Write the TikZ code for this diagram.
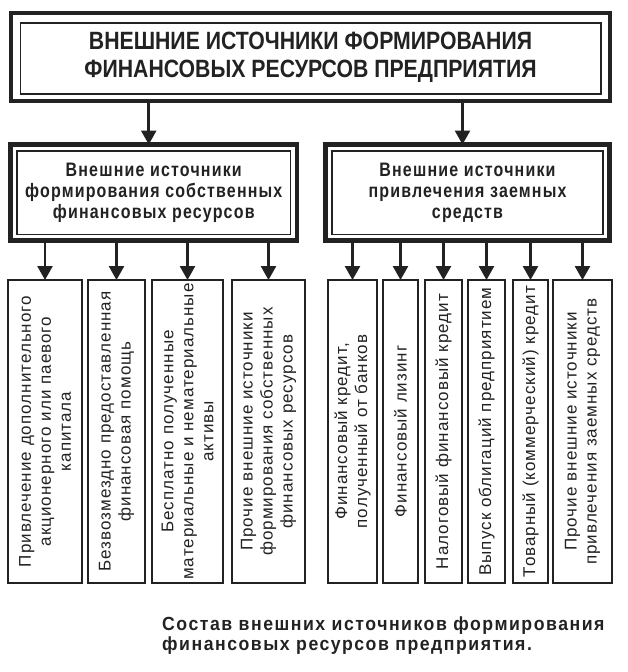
\documentclass[tikz,border=0pt]{standalone}
\usepackage{fontspec}
\setmainfont{Liberation Sans}
\newfontfamily\ttlfont[FakeStretch=0.85]{Liberation Sans}
\newfontfamily\subfont[FakeStretch=0.82,LetterSpace=6]{Liberation Sans}
\newfontfamily\vfont[LetterSpace=6]{Liberation Sans}
\newfontfamily\capfont[FakeStretch=0.93,LetterSpace=8]{Liberation Sans}
\usetikzlibrary{arrows.meta}
\definecolor{ink}{HTML}{222222}
\tikzset{
  x=1pt, y=-1pt,
  frame/.style={draw=ink, line width=4.5pt, outer sep=0pt, inner sep=0pt, align=center, text=ink},
  innerline/.style={draw=ink, line width=1.6pt},
  vbox/.style={draw=ink, line width=2.2pt, outer sep=0pt, inner sep=2pt, rotate=90,
    minimum width=303pt, align=center, text=ink,
    font=\vfont\fontsize{17}{20}\selectfont},
  arr/.style={draw=ink, line width=2.6pt, -{Triangle[width=15pt,length=14pt]}},
}
\begin{document}
\begin{tikzpicture}
\useasboundingbox (0,0) rectangle (627,672);
% top box
\node[frame, minimum width=599pt, minimum height=88pt,
  font=\ttlfont\bfseries\fontsize{25}{28}\selectfont] (top) at (310.5,57)
  {\raisebox{-3pt}{\parbox{560pt}{\centering ВНЕШНИЕ ИСТОЧНИКИ ФОРМИРОВАНИЯ\\ФИНАНСОВЫХ РЕСУРСОВ ПРЕДПРИЯТИЯ}}};
\draw[innerline] ([xshift=9.5pt,yshift=-10pt]top.north west) rectangle ([xshift=-9pt,yshift=7pt]top.south east);
% second level
\node[frame, minimum width=286.5pt, minimum height=96pt,
  font=\subfont\bfseries\fontsize{19.5}{21}\selectfont] (s1) at (153.75,192.5)
  {Внешние источники\\формирования собственных\\финансовых ресурсов};
\draw[innerline] ([xshift=6.5pt,yshift=-6.5pt]s1.north west) rectangle ([xshift=-6.5pt,yshift=6pt]s1.south east);
\node[frame, minimum width=284pt, minimum height=96pt,
  font=\subfont\bfseries\fontsize{19.5}{21}\selectfont] (s2) at (467.5,192.5)
  {Внешние источники\\привлечения заемных\\средств};
\draw[innerline] ([xshift=6.5pt,yshift=-6.5pt]s2.north west) rectangle ([xshift=-6.5pt,yshift=6pt]s2.south east);
\draw[arr] ([xshift=-5pt]top.south -| s1.north) -- ([xshift=-5pt]s1.north);
\draw[arr] ([xshift=-5pt]top.south -| s2.north) -- ([xshift=-5pt]s2.north);
% vertical boxes
\node[vbox, minimum height=74pt] (b1) at (45,431.5)
  {Привлечение дополнительного\\акционерного или паевого\\капитала};
\node[vbox, minimum height=57pt] (b2) at (116.5,431.5)
  {Безвозмездно предоставленная\\финансовая помощь};
\node[vbox, minimum height=71pt] (b3) at (187.5,431.5)
  {Бесплатно полученные\\материальные и нематериальные\\активы};
\node[vbox, minimum height=73pt] (b4) at (268.5,431.5)
  {Прочие внешние источники\\формирования собственных\\финансовых ресурсов};
\node[vbox, minimum height=49pt] (b5) at (352.5,431.5)
  {Финансовый кредит,\\полученный от банков};
\node[vbox, minimum height=35pt] (b6) at (400.5,431.5)
  {Финансовый лизинг};
\node[vbox, minimum height=37pt] (b7) at (443.5,431.5)
  {Налоговый финансовый кредит};
\node[vbox, minimum height=37pt] (b8) at (486.5,431.5)
  {Выпуск облигаций предприятием};
\node[vbox, minimum height=35pt] (b9) at (530.5,431.5)
  {Товарный (коммерческий) кредит};
\node[vbox, minimum height=59pt] (b10) at (582.5,431.5)
  {Прочие внешние источники\\привлечения заемных средств};
\foreach \b in {b1,b2,b3,b4} \draw[arr] (s1.south -| \b.east) -- (\b.east);
\foreach \b in {b5,b6,b7,b8,b9,b10} \draw[arr] (s2.south -| \b.east) -- (\b.east);
% caption
\node[anchor=base west, align=left, text=ink, inner sep=0pt,
  font=\capfont\bfseries\fontsize{19}{20}\selectfont] (cap) at (162,650)
  {Состав внешних источников формирования\\финансовых ресурсов предприятия.};
\end{tikzpicture}
\end{document}
